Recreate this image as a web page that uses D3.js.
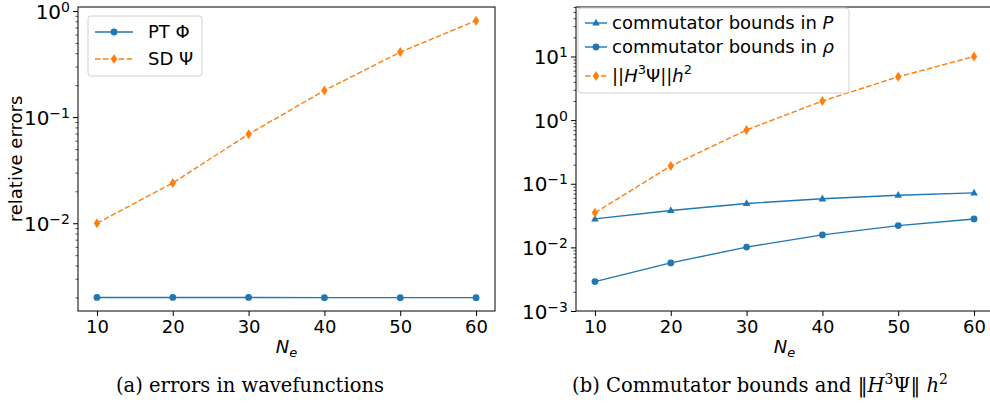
<!DOCTYPE html>
<html lang="en">
<head>
    <meta charset="UTF-8">
    <title>errors and commutator bounds</title>
    <script src="https://d3js.org/d3.v7.min.js"></script>
    <style>
        body { margin: 0; background: #fff; }
        text { font-family: "DejaVu Sans", sans-serif; fill: #000; }
    </style>
</head>
<body>
<svg width="990" height="404"></svg>

<script>
    // values
    const ne = [10, 20, 30, 40, 50, 60];
    const ptPhi = [0.00200, 0.00200, 0.00200, 0.00199, 0.00199, 0.00199];
    const sdPsi = [0.0100, 0.0240, 0.0690, 0.178, 0.410, 0.810];
    const commP = [0.0280, 0.0380, 0.0490, 0.0580, 0.0660, 0.0720];
    const commRho = [0.0029, 0.0057, 0.0101, 0.0157, 0.0220, 0.0280];
    const h3Psi = [0.035, 0.19, 0.70, 2.0, 4.8, 10.0];
    const xTicks = [10, 20, 30, 40, 50, 60];
    const leftExp = [-2, -1, 0];
    const rightExp = [-3, -2, -1, 0, 1];

    const blue = "#1f77b4", orange = "#ff7f0e";
    const svg = d3.select("svg");
    svg.append("rect").attr("width", 990).attr("height", 404).attr("fill", "#fff");

    function minorTicks(lo, hi) {
        const out = [];
        for (let e = Math.floor(Math.log10(lo)); e <= Math.ceil(Math.log10(hi)); e++) {
            for (let k = 2; k <= 9; k++) {
                const v = k * Math.pow(10, e);
                if (v >= lo && v <= hi) out.push(v);
            }
        }
        return out;
    }

    function marker(g, type, color) {
        if (type === "circle") {
            return g.append("circle").attr("r", 3.4).attr("fill", color);
        } else if (type === "diamond") {
            return g.append("path").attr("d", "M0,-5L3.2,0L0,5L-3.2,0Z").attr("fill", color);
        } else {
            return g.append("path").attr("d", "M0,-4.2L3.8,2.6L-3.8,2.6Z").attr("fill", color);
        }
    }

    function panel(opt) {
        const x = d3.scaleLinear().domain([7.5, 62.5]).range([opt.x0, opt.x1]);
        const y = d3.scaleLog().domain(opt.yDomain).range([311, 7]);
        const g = svg.append("g");

        // x axis
        const xa = g.append("g").attr("transform", "translate(0,311)")
            .call(d3.axisBottom(x).tickValues(xTicks).tickSize(5).tickPadding(4));
        xa.select(".domain").remove();
        xa.selectAll("text").attr("font-size", 18).attr("font-family", "DejaVu Sans");

        // y axis, minor then major
        const ym = g.append("g").attr("transform", `translate(${opt.x0},0)`)
            .call(d3.axisLeft(y).tickValues(minorTicks(opt.yDomain[0], opt.yDomain[1]))
                .tickSize(2.5).tickFormat(() => ""));
        ym.select(".domain").remove();
        ym.selectAll("line").attr("stroke-width", 0.7);

        const ya = g.append("g").attr("transform", `translate(${opt.x0},0)`)
            .call(d3.axisLeft(y).tickValues(opt.exps.map(e => Math.pow(10, e)))
                .tickSize(5).tickPadding(3).tickFormat(() => ""));
        ya.select(".domain").remove();
        ya.selectAll(".tick text").each(function(d) {
            const t = d3.select(this).attr("font-size", 20).attr("font-family", "DejaVu Sans").attr("dy", "0.36em");
            const e = Math.round(Math.log10(d));
            t.append("tspan").text("10");
            t.append("tspan").attr("font-size", 14).attr("dy", -7)
                .text(e < 0 ? "\u2212" + (-e) : String(e));
        });

        // series
        opt.series.forEach(s => {
            const pts = ne.map((v, i) => [x(v), y(s.values[i])]);
            g.append("path").attr("d", d3.line()(pts))
                .attr("fill", "none").attr("stroke", s.color).attr("stroke-width", 1.4)
                .attr("stroke-dasharray", s.dash ? "5.5,2.4" : null);
            pts.forEach(p => {
                marker(g.append("g").attr("transform", `translate(${p[0]},${p[1]})`), s.marker, s.color);
            });
        });

        // frame
        g.append("rect").attr("x", opt.x0).attr("y", 7)
            .attr("width", opt.x1 - opt.x0).attr("height", 304)
            .attr("fill", "none").attr("stroke", "#000").attr("stroke-width", 1);

        // x label N_e
        const xl = g.append("text").attr("x", (opt.x0 + opt.x1) / 2).attr("y", 353)
            .attr("text-anchor", "middle").attr("font-size", 18).attr("font-style", "italic");
        xl.append("tspan").text("N");
        xl.append("tspan").attr("font-size", 13).attr("dy", 4).text("e");

        // legend
        const L = opt.legend;
        g.append("rect").attr("x", L.x).attr("y", L.y).attr("width", L.w).attr("height", L.h)
            .attr("rx", 3).attr("fill", "#fff").attr("fill-opacity", 0.8)
            .attr("stroke", "#d0d0d0").attr("stroke-width", 1);
        opt.series.forEach((s, i) => {
            const ry = L.rows[i];
            g.append("line").attr("x1", L.lx0).attr("x2", L.lx1).attr("y1", ry).attr("y2", ry)
                .attr("stroke", s.color).attr("stroke-width", 1.4)
                .attr("stroke-dasharray", s.dash ? "5.5,2.4" : null);
            marker(g.append("g").attr("transform", `translate(${(L.lx0 + L.lx1) / 2},${ry})`), s.marker, s.color);
            const t = g.append("text").attr("x", L.tx).attr("y", ry + 6).attr("font-size", 18);
            s.label.forEach(part => {
                const sp = t.append("tspan").text(part.t);
                if (part.i) sp.attr("font-style", "italic");
                if (part.small) sp.attr("font-size", 13);
                if (part.dy) sp.attr("dy", part.dy);
            });
        });
        return g;
    }

    panel({
        x0: 78, x1: 495,
        yDomain: [0.00149, 1.09],
        exps: leftExp,
        series: [
            {values: ptPhi, color: blue, marker: "circle", dash: false, label: [{t: "PT \u03A6"}]},
            {values: sdPsi, color: orange, marker: "diamond", dash: true, label: [{t: "SD \u03A8"}]}
        ],
        legend: {x: 88, y: 16, w: 114, h: 60, rows: [32, 59], lx0: 95, lx1: 133, tx: 148}
    });

    panel({
        x0: 576, x1: 993,
        yDomain: [0.001, 60],
        exps: rightExp,
        series: [
            {values: commP, color: blue, marker: "triangle", dash: false,
                label: [{t: "commutator bounds in "}, {t: "P", i: true}]},
            {values: commRho, color: blue, marker: "circle", dash: false,
                label: [{t: "commutator bounds in "}, {t: "\u03C1", i: true}]},
            {values: h3Psi, color: orange, marker: "diamond", dash: true,
                label: [{t: "||"}, {t: "H", i: true}, {t: "3", small: true, dy: -8}, {t: "\u03A8", dy: 8},
                    {t: "||"}, {t: "h", i: true}, {t: "2", small: true, dy: -8}]}
        ],
        legend: {x: 578, y: 8, w: 271, h: 85, rows: [23, 47, 76], lx0: 585, lx1: 607, tx: 612}
    });

    // y label, left panel
    svg.append("text").attr("transform", "translate(22,159) rotate(-90)")
        .attr("text-anchor", "middle").attr("font-size", 18).text("relative errors");

    // captions
    const serif = "'DejaVu Serif', serif";
    svg.append("text").attr("x", 250).attr("y", 392).attr("text-anchor", "middle")
        .attr("font-size", 19.5).style("font-family", serif)
        .text("(a) errors in wavefunctions");
    const cb = svg.append("text").attr("x", 760).attr("y", 392).attr("text-anchor", "middle")
        .attr("font-size", 19.5).style("font-family", serif);
    cb.append("tspan").text("(b) Commutator bounds and \u2016");
    cb.append("tspan").attr("font-style", "italic").text("H");
    cb.append("tspan").attr("font-size", 14).attr("dy", -8).text("3");
    cb.append("tspan").attr("dy", 8).text("\u03A8\u2016 ");
    cb.append("tspan").attr("font-style", "italic").text("h");
    cb.append("tspan").attr("font-size", 14).attr("dy", -8).text("2");
</script>
</body>
</html>
